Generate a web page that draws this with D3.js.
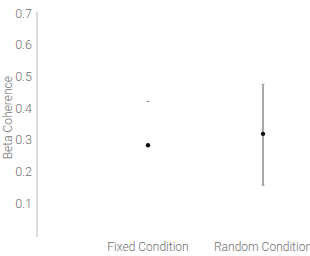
<html>
<head>
<style>
  body { margin: 0; padding: 0; background: white; }
  svg { display: block; }
</style>
<script src="https://cdn.jsdelivr.net/npm/d3@7"></script>
</head>
<body>
<svg width="310" height="256"></svg>
<script>
  // data
  const conditions = ["Fixed Condition", "Random Condition"];
  const means = [0.283, 0.319];
  const upper = [0.421, 0.475];
  const lower = [null, 0.157];   // fixed condition only shows its top cap
  const yTicks = [0.1, 0.2, 0.3, 0.4, 0.5, 0.6, 0.7];

  const svg = d3.select("svg");
  const font = "Roboto, 'Open Sans', sans-serif";
  const grey = "#6f6f6f";

  const y = d3.scaleLinear().domain([0, 0.7]).range([235, 13]);
  const x = d3.scalePoint().domain(conditions).range([148, 263]);

  // y axis
  const yAxis = svg.append("g")
    .attr("transform", "translate(37,0)")
    .call(d3.axisLeft(y).tickValues(yTicks).tickSize(0).tickPadding(5).tickFormat(d3.format(".1f")));
  yAxis.select(".domain").attr("stroke", "#cfcfcf").attr("stroke-width", 1.5)
    .attr("d", `M0,${y(0.7) - 1}V${y(0) + 2}`);
  yAxis.selectAll("text")
    .attr("font-family", font).attr("font-weight", 300)
    .attr("font-size", "12.5px").attr("fill", grey);

  // x labels
  svg.append("g").selectAll("text")
    .data(conditions)
    .join("text")
    .attr("x", d => x(d))
    .attr("y", 251)
    .attr("text-anchor", "middle")
    .attr("font-family", font).attr("font-weight", 300)
    .attr("font-size", "12px").attr("fill", grey)
    .text(d => d);

  // y title
  svg.append("text")
    .attr("transform", `translate(12,${y(0.37)}) rotate(-90)`)
    .attr("text-anchor", "middle")
    .attr("font-family", font).attr("font-weight", 300)
    .attr("font-size", "12px").attr("fill", grey)
    .text("Beta Coherence");

  // error bars
  const marks = svg.append("g");
  conditions.forEach((c, i) => {
    const cx = x(c);
    if (lower[i] != null) {
      marks.append("line")
        .attr("x1", cx).attr("x2", cx)
        .attr("y1", y(upper[i])).attr("y2", y(lower[i]))
        .attr("stroke", "#555").attr("stroke-width", 1);
      marks.append("line")
        .attr("x1", cx - 1.5).attr("x2", cx + 1.5)
        .attr("y1", y(lower[i])).attr("y2", y(lower[i]))
        .attr("stroke", "#999").attr("stroke-width", 1);
    }
    marks.append("line")
      .attr("x1", cx - 1.5).attr("x2", cx + 1.5)
      .attr("y1", y(upper[i])).attr("y2", y(upper[i]))
      .attr("stroke", "#999").attr("stroke-width", 1);
    marks.append("circle")
      .attr("cx", cx).attr("cy", y(means[i]))
      .attr("r", 2.2).attr("fill", "#111");
  });
</script>
</body>
</html>
